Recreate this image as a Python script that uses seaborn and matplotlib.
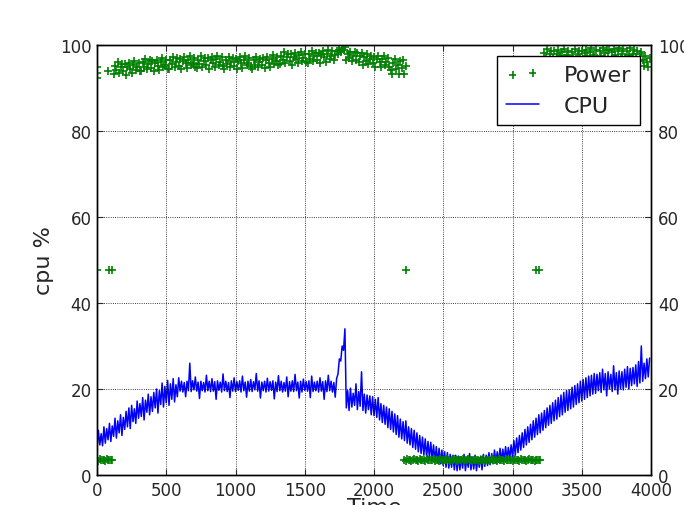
#!/usr/bin/env python3
import numpy as np
import seaborn as sns
import matplotlib
matplotlib.use("Agg")
import matplotlib.pyplot as plt

cpu_step = 10
cpu_vals = [
    6.2, 10.4, 7.0, 9.6, 6.8, 11.2, 7.4, 10.8, 8.2, 12.0, 7.8, 11.4, 9.0, 13.2, 8.6, 12.6, 9.8, 14.0, 9.2, 13.4,
    10.6, 14.8, 11.2, 15.6, 10.8, 16.2, 12.4, 15.4, 12.0, 17.2, 13.2, 16.6, 13.6, 18.0, 12.8, 17.4, 14.6, 18.8, 14.0, 18.2,
    14.8, 19.2, 15.6, 20.0, 14.4, 19.6, 16.4, 21.4, 15.8, 20.6, 16.8, 22.0, 16.2, 21.2, 17.6, 22.4, 17.0, 21.0, 18.2, 22.6,
    19.5, 21.8, 19.3, 21.5, 18.2, 21.8, 19.6, 26, 19.4, 21.9, 19.8, 22.8, 19.5, 21.6, 17.8, 21.8, 19.6, 21.5, 19.3, 23.2,
    19.6, 21.8, 19.4, 22.4, 19.5, 21.7, 17.6, 21.9, 19.7, 21.6, 19.3, 23.5, 19.6, 21.8, 19.4, 21.5, 18.0, 21.9, 19.5, 22.6,
    19.4, 21.7, 19.7, 21.9, 19.3, 23.0, 19.6, 21.6, 18.1, 21.8, 19.5, 22.2, 19.4, 21.7, 19.8, 23.6, 19.5, 21.9, 17.9, 21.6,
    19.6, 21.8, 19.3, 22.5, 19.5, 21.7, 19.7, 21.9, 17.7, 21.6, 19.4, 23.1, 19.6, 21.8, 19.3, 21.5, 19.5, 22.8, 18.2, 21.7,
    19.5, 21.9, 19.4, 23.4, 19.6, 21.6, 17.9, 21.8, 19.3, 22.3, 19.7, 21.7, 19.5, 21.9, 18.0, 23.0, 19.4, 21.6, 19.6, 21.8,
    19.3, 22.6, 19.5, 21.7, 17.6, 21.9, 19.4, 23.2, 19.6, 21.8, 19.3, 21.5, 18.1, 22.4, 23.5, 27, 26.5, 30, 29, 34,
    15.6, 19.6, 15.0, 20.2, 15.8, 19.0, 16.2, 21.2, 15.2, 19.4, 16.0, 24.0, 15.0, 18.8, 14.4, 18.6, 15.2, 18.4, 14.0, 18.2,
    13.8, 17.6, 13.4, 18.0, 12.8, 16.6, 12.2, 16.2, 11.8, 15.8, 11.0, 15.4, 10.6, 14.8, 10.0, 14.2, 9.4, 13.8, 8.8, 13.0,
    8.4, 12.4, 8.0, 12.6, 7.4, 11.2, 7.0, 10.8, 6.4, 10.4, 6.0, 9.8, 5.4, 9.2, 5.0, 8.8, 4.6, 8.4, 4.2, 7.8,
    4.0, 7.6, 3.6, 7.0, 3.2, 6.6, 2.8, 6.2, 2.6, 5.8, 2.2, 5.4, 1.8, 5.2, 1.6, 4.8, 1.8, 4.6, 1.2, 4.6,
    1.0, 4.4, 1.2, 4.2, 1.6, 4.8, 1.0, 4.0, 1.8, 5.0, 1.2, 4.2, 1.4, 4.6, 1.0, 4.0, 1.8, 4.4, 1.2, 4.8,
    2.0, 4.6, 2.2, 5.2, 2.4, 5.0, 2.6, 5.8, 2.8, 5.4, 3.0, 6.2, 3.2, 6.0, 3.4, 6.6, 3.6, 6.4, 3.8, 7.0,
    4.2, 8.0, 4.6, 8.6, 5.2, 9.2, 5.8, 9.8, 6.4, 10.6, 7.0, 11.2, 7.6, 11.8, 8.2, 12.6, 8.8, 13.2, 9.4, 14.0,
    9.8, 14.4, 10.4, 15.0, 11.0, 15.6, 11.6, 16.2, 12.0, 16.8, 12.6, 17.4, 13.0, 18.0, 13.6, 18.6, 14.0, 19.2, 14.6, 19.6,
    15.0, 19.8, 15.4, 20.4, 15.8, 20.8, 16.4, 21.2, 16.8, 21.8, 17.2, 22.2, 17.6, 22.6, 18.0, 23.0, 18.4, 23.2, 18.8, 23.6,
    19.0, 23.4, 19.6, 23.8, 19.2, 24.6, 19.8, 23.6, 18.4, 24.0, 20.0, 23.4, 19.4, 25.4, 19.8, 23.8, 18.8, 24.2, 20.0, 24.0,
    19.8, 24.6, 20.4, 25.2, 20.0, 24.8, 20.8, 25.0, 21.2, 25.6, 20.6, 26.4, 21.4, 30.0, 21.8, 26.0, 22.4, 27.0, 22.8, 27.2,
]

# Power readings, every 10 time units, in runs (start time, values)
power_step = 10
power_lo_start_t0 = 0
power_lo_start = [3.5, 3.3, 3.7, 3.4, 3.6, 3.5, 3.3, 3.7, 3.5, 3.4, 3.6, 3.5]

power_hi_a_t0 = 120
power_hi_a = [
    93.2, 95.2, 94.2, 96.0, 93.6, 94.8, 95.6, 93.9, 95.5, 93.1, 95.0, 95.9, 94.5, 93.5, 95.4, 96.2, 94.1, 94.8, 95.9, 94.0,
    94.0, 96.0, 95.0, 96.8, 94.4, 95.6, 96.4, 94.7, 96.3, 93.9, 95.8, 96.6, 95.2, 94.2, 96.1, 96.9, 94.8, 95.4, 96.5, 94.5,
    94.5, 96.5, 95.5, 97.3, 94.9, 96.1, 96.9, 95.2, 96.8, 94.4, 96.3, 97.1, 95.7, 94.7, 96.6, 97.4, 95.3, 95.9, 97.0, 95.0,
    94.6, 96.6, 95.6, 97.4, 95.0, 96.2, 97.0, 95.3, 96.9, 94.5, 96.4, 97.2, 95.8, 94.8, 96.7, 97.5, 95.4, 96.0, 97.1, 95.1,
    94.5, 96.5, 95.5, 97.3, 94.9, 96.1, 96.9, 95.2, 96.8, 94.4, 96.3, 97.1, 95.7, 94.7, 96.6, 97.4, 95.3, 95.9, 97.0, 95.0,
    94.4, 96.4, 95.4, 97.2, 94.8, 96.0, 96.8, 95.3, 97.0, 94.6, 96.5, 97.3, 95.9, 94.9, 96.8, 97.6, 95.6, 96.2, 97.3, 95.3,
    95.5, 97.5, 96.5, 98.3, 95.9, 97.1, 97.9, 96.2, 97.8, 95.4, 97.3, 98.1, 96.7, 95.7, 97.6, 98.4, 96.3, 96.9, 98.0, 96.0,
    95.8, 97.8, 96.8, 98.6, 96.2, 97.4, 98.2, 96.6, 98.2, 95.8, 97.7, 98.5, 97.1, 96.1, 98.0, 98.8, 96.8, 97.4, 98.5, 96.6,
    97.6, 98.6, 98.0, 98.9, 98.4, 99.2, 98.8, 99.6, 96.5, 97.9, 97.0, 98.3, 96.3, 97.5, 98.4, 96.6, 98.1, 96.0, 97.4, 98.2,
    95.3, 97.3, 96.3, 97.9, 95.5, 96.7, 97.4, 95.7, 97.2, 94.9, 96.7, 97.4, 96.0, 95.0, 96.8, 97.5, 95.4, 96.0, 97.0, 94.9,
    94.2, 93.3, 95.7, 96.7, 94.4, 95.3, 93.2, 96.3, 94.6, 96.5, 93.3, 95.2,
]

power_lo_t0 = 2220
power_lo = [
    3.5, 3.3, 3.7, 3.4, 3.6, 3.2, 3.5, 3.8, 3.4, 3.6, 3.3, 3.7, 3.5, 3.4, 3.6, 3.3, 3.8, 3.5, 3.4, 3.6,
    3.4, 3.7, 3.3, 3.5, 3.6, 3.2, 3.7, 3.5, 3.3, 3.6, 3.4, 3.8, 3.5, 3.3, 3.6, 3.4, 3.7, 3.5, 3.2, 3.6,
    3.5, 3.4, 3.7, 3.3, 3.6, 3.5, 3.8, 3.4, 3.5, 3.3, 3.6, 3.7, 3.4, 3.5, 3.2, 3.6, 3.5, 3.7, 3.3, 3.4,
    3.6, 3.5, 3.3, 3.7, 3.4, 3.6, 3.5, 3.2, 3.8, 3.5, 3.4, 3.6, 3.3, 3.7, 3.5, 3.4, 3.6, 3.5, 3.3, 3.7,
    3.4, 3.5, 3.6, 3.3, 3.7, 3.5, 3.4, 3.6, 3.2, 3.5, 3.7, 3.4, 3.6, 3.5, 3.3, 3.6, 3.5, 3.4, 3.6,
]

power_hi_b_t0 = 3220
power_hi_b = [
    96.2, 98.2, 97.2, 99.0, 96.6, 97.8, 98.6, 96.9, 98.5, 96.1, 98.0, 98.8, 97.4, 96.4, 98.3, 99.1, 97.0, 97.6, 98.7, 96.7,
    96.3, 98.3, 97.3, 99.1, 96.7, 97.9, 98.7, 97.0, 98.6, 96.2, 98.1, 98.9, 97.5, 96.5, 98.4, 99.2, 97.1, 97.7, 98.8, 96.8,
    96.5, 98.5, 97.5, 99.3, 96.9, 98.1, 98.9, 97.2, 98.8, 96.4, 98.3, 99.1, 97.7, 96.7, 98.6, 99.4, 97.3, 97.9, 99.0, 97.0,
    96.6, 98.6, 97.6, 99.2, 97.0, 98.0, 98.8, 97.1, 98.5, 96.2, 97.8, 98.4, 96.5, 95.2, 97.4, 96.0, 94.8, 97.0,
]

# odd readings around the level changes
power_extra_t = [0, 0, 0, 0, 80, 90, 105, 2230, 3170, 3190]
power_extra_v = [92.3, 93.6, 94.8, 47.7, 94.0, 47.7, 47.7, 47.7, 47.7, 47.7]

x_ticks = [0, 500, 1000, 1500, 2000, 2500, 3000, 3500, 4000]
y_ticks = [0, 20, 40, 60, 80, 100]


def run_times(t0, vals, step):
    return np.arange(t0, t0 + step * len(vals), step)


def main():
    sns.set_style("white")
    plt.rcParams["font.family"] = ["DejaVu Sans"]
    plt.rcParams["xtick.direction"] = "in"
    plt.rcParams["ytick.direction"] = "in"

    cpu_t = run_times(0, cpu_vals, cpu_step)
    p_t = np.concatenate([
        run_times(power_lo_start_t0, power_lo_start, power_step),
        run_times(power_hi_a_t0, power_hi_a, power_step),
        run_times(power_lo_t0, power_lo, power_step),
        run_times(power_hi_b_t0, power_hi_b, power_step),
        power_extra_t,
    ])
    p_v = np.concatenate([power_lo_start, power_hi_a, power_lo, power_hi_b, power_extra_v])

    fig = plt.figure(figsize=(6.84, 5.06), dpi=100)
    ax = fig.add_axes([97 / 684, 30 / 506, 554 / 684, 430 / 506])

    sns.lineplot(x=cpu_t, y=cpu_vals, ax=ax, color="#0000ff", linewidth=1.1,
                 estimator=None, errorbar=None, label="CPU", legend=False)
    ax.set_xlim(0, 4000)
    ax.set_ylim(0, 100)
    ax.set_xticks(x_ticks)
    ax.set_yticks(y_ticks)
    ax.grid(True, color="k", linestyle=":", linewidth=0.6)
    ax.set_axisbelow(False)
    ax.tick_params(axis="both", which="major", labelsize=12, length=4, width=0.8,
                   top=True, bottom=True, left=True, right=False, pad=4)
    ax.set_xlabel("Time", fontsize=16, labelpad=-1)
    ax.set_ylabel("cpu %", fontsize=16, labelpad=4)

    ax2 = ax.twinx()
    sns.scatterplot(x=p_t, y=p_v, ax=ax2, marker="+", color="#008000", s=30,
                    linewidth=1.2, label="Power", legend=False)
    ax2.set_ylim(0, 100)
    ax2.set_yticks(y_ticks)
    ax2.set_ylabel("")
    ax2.tick_params(axis="y", labelsize=12, length=4, width=0.8, direction="in", pad=5)

    for a in (ax, ax2):
        for sp in a.spines.values():
            sp.set_color("k")
            sp.set_linewidth(1.0)

    handles = [ax2.collections[0], ax.get_lines()[0]]
    leg = ax2.legend(handles, ["Power", "CPU"], loc="upper right", fontsize=16,
                     scatterpoints=2, fancybox=False, framealpha=1.0, edgecolor="k",
                     borderaxespad=0.5, handlelength=1.5, handletextpad=1.1,
                     labelspacing=0.5, borderpad=0.4)
    leg.get_frame().set_linewidth(1.0)

    fig.savefig("out.png", dpi=100)
    plt.close(fig)


if __name__ == "__main__":
    main()
